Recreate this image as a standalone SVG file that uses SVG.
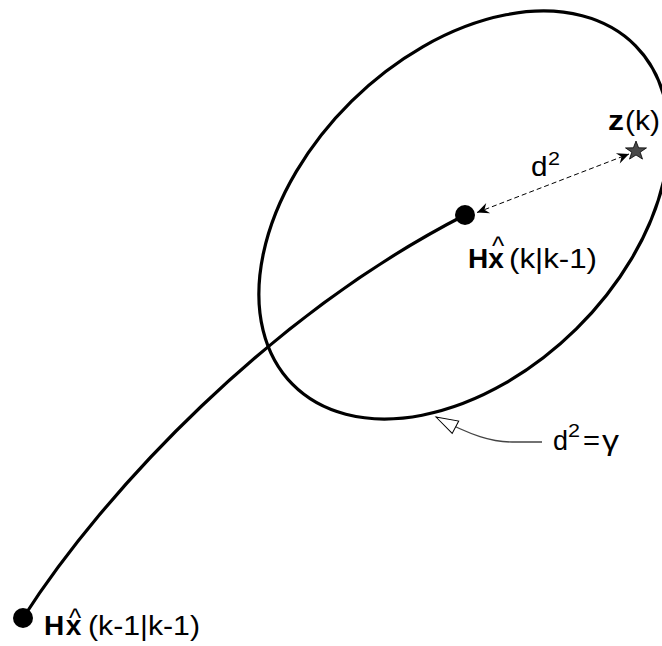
<svg xmlns="http://www.w3.org/2000/svg" width="662" height="646" viewBox="0 0 662 646">
<style>
.t{font-family:"Liberation Sans",Arial,sans-serif;font-size:28px;fill:#000}
.b{font-weight:bold}
.sup{font-size:18px}
.hat{font-size:26px;font-weight:normal}
.thick{fill:none;stroke:#000;stroke-width:3.2}
.dash{fill:none;stroke:#000;stroke-width:1;stroke-dasharray:5 3}
</style>
<defs>
<marker id="stealth" markerUnits="userSpaceOnUse" viewBox="-13 -6 14 12" refX="0" refY="0" markerWidth="14" markerHeight="12" orient="auto-start-reverse">
<path d="M0,0 L-12,-5.5 L-8,0 L-12,5.5 Z" fill="#000"/>
</marker>
<marker id="open" markerUnits="userSpaceOnUse" viewBox="-26 -9 28 18" refX="0" refY="0" markerWidth="28" markerHeight="18" orient="auto">
<path d="M0,0 L-22,-7 L-22,7 Z" fill="#fff" stroke="#000" stroke-width="1"/>
</marker>
</defs>
<g id="gate">
<ellipse cx="464" cy="215" rx="241" ry="160" transform="rotate(-44.6 464 215)" class="thick" stroke-width="3.4"/>
</g>
<g id="connectors">
<path class="thick" stroke-width="3" d="M23,618 C105,490 270,315 465,215"/>
<path class="dash" d="M477,212.5 L629,154" marker-start="url(#stealth)" marker-end="url(#stealth)"/>
<path d="M542,442 L512,442 C492,442 472,436 436,417" fill="none" stroke="#444" stroke-width="1.3" marker-end="url(#open)"/>
</g>
<g id="prior">
<circle cx="23" cy="618" r="10" fill="#000"/>
<text class="t b" x="44" y="635" letter-spacing="1.5">Hx<tspan class="hat" x="69" y="627">^</tspan></text>
<text class="t" x="88" y="635" textLength="112" lengthAdjust="spacingAndGlyphs">(k-1|k-1)</text>
</g>
<g id="predicted">
<circle cx="465" cy="215" r="10" fill="#000"/>
<text class="t b" x="468" y="268">Hx<tspan class="hat" x="492" y="255">^</tspan></text>
<text class="t" x="509" y="268" textLength="88" lengthAdjust="spacingAndGlyphs">(k|k-1)</text>
</g>
<g id="measurement">
<polygon points="636,141 638.6,147.8 646.5,147.9 640.2,152.2 642.5,159.1 636,155 629.5,159.1 631.8,152.2 625.5,147.9 633.4,147.8" fill="#4a4a4a" stroke="#000" stroke-width="0.8"/>
<text class="t b" x="608" y="130" textLength="16" lengthAdjust="spacingAndGlyphs">z</text>
<text class="t" x="625" y="130" textLength="35" lengthAdjust="spacingAndGlyphs">(k)</text>
</g>
<g id="distance-label">
<text class="t" x="531" y="176" textLength="16.5" lengthAdjust="spacingAndGlyphs">d</text>
<text class="t sup" x="548" y="165" textLength="12" lengthAdjust="spacingAndGlyphs">2</text>
</g>
<g id="gate-label">
<text class="t" x="553" y="450" textLength="15" lengthAdjust="spacingAndGlyphs">d</text>
<text class="t sup" x="568" y="437" textLength="12" lengthAdjust="spacingAndGlyphs">2</text>
<text class="t" x="583" y="450" textLength="17" lengthAdjust="spacingAndGlyphs">=</text>
<text class="t" x="602" y="450" textLength="17" lengthAdjust="spacingAndGlyphs">γ</text>
</g>
</svg>
